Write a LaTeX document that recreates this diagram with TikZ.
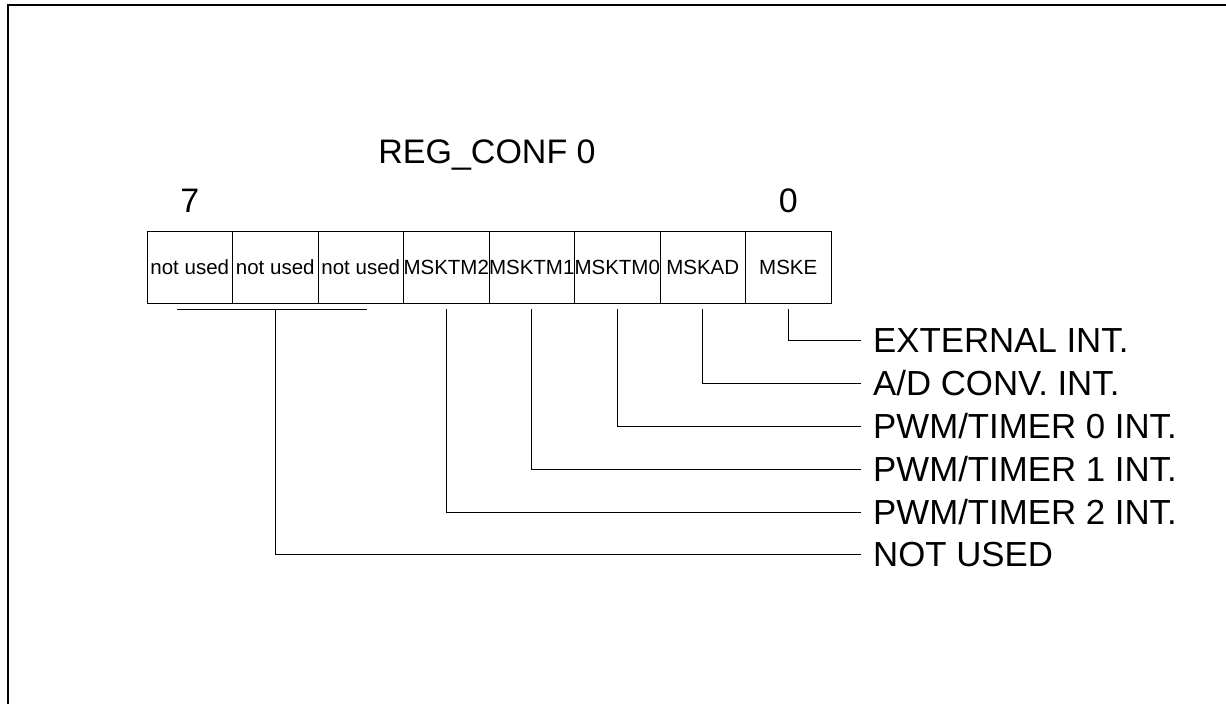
\documentclass[tikz,border=0pt]{standalone}
\usepackage{fontspec}
\setmainfont{Liberation Sans}
\usetikzlibrary{positioning}
\tikzset{
  cell/.style={draw, line width=1pt, minimum width=85.5pt, minimum height=72pt,
    inner sep=0pt, outer sep=0pt, font=\fontsize{20.5}{24}\selectfont},
  big/.style={font=\fontsize{34}{40}\selectfont, inner sep=0pt,
    text height=24pt, text depth=0pt},
  lbl/.style={big, font=\fontsize{34.8}{40}\selectfont, anchor=west, inner xsep=12pt},
  wire/.style={line width=1pt},
}
\begin{document}
\begin{tikzpicture}[x=1pt,y=-1pt]
            \useasboundingbox (0,0) rectangle (1226,704);
            \draw[line width=2pt] (8,704) -- (8,5) -- (1226,5);
            % register cells, bit 7 on the left
            \node[cell] (c7) at (189.75, 267) {not used};
            \node[cell, right=0pt of c7] (c6) {not used};
            \node[cell, right=0pt of c6] (c5) {not used};
            \node[cell, right=0pt of c5] (c4) {MSKTM2};
            \node[cell, right=0pt of c4] (c3) {MSKTM1};
            \node[cell, right=0pt of c3] (c2) {MSKTM0};
            \node[cell, right=0pt of c2] (c1) {MSKAD};
            \node[cell, right=0pt of c1] (c0) {MSKE};
            \node[big] (title) at (487, 151.5) {REG\_CONF 0};
            \node[big, above=18pt of c7] (b7) {7};
            \node[big, above=18pt of c0] (b0) {0};
            % meanings
            \node[lbl] (l0) at (861, 340) {EXTERNAL INT.};
            \node[lbl] (l1) at (861, 383) {A/D CONV. INT.};
            \node[lbl] (l2) at (861, 426) {PWM/TIMER 0 INT.};
            \node[lbl] (l3) at (861, 469) {PWM/TIMER 1 INT.};
            \node[lbl] (l4) at (861, 512) {PWM/TIMER 2 INT.};
            \node[lbl] (lnu) at (861, 554) {NOT USED};
            \draw[wire] ([yshift=-6pt]c0.south) |- (l0.west);
            \draw[wire] ([yshift=-6pt]c1.south) |- (l1.west);
            \draw[wire] ([yshift=-6pt]c2.south) |- (l2.west);
            \draw[wire] ([yshift=-6pt]c3.south) |- (l3.west);
            \draw[wire] ([yshift=-6pt]c4.south) |- (l4.west);
            \draw[wire] ([xshift=-12.75pt,yshift=-6pt]c7.south) -- ([xshift=6.25pt,yshift=-6pt]c5.south);
            \draw[wire] ([yshift=-6pt]c6.south) |- (lnu.west);
        \end{tikzpicture}
\end{document}
